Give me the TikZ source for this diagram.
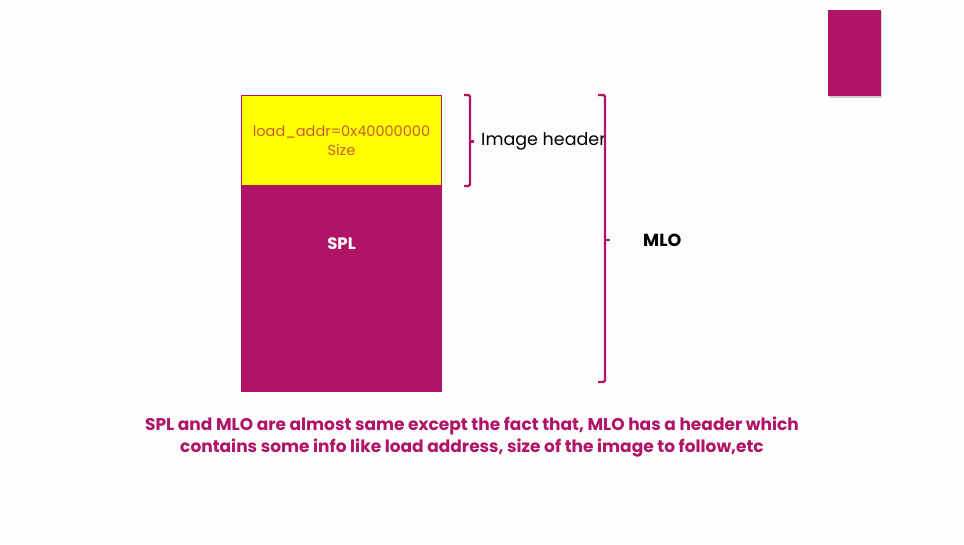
\documentclass[tikz,border=0pt]{standalone}
\usepackage{fontspec}
\setmainfont{Poppins}
\usetikzlibrary{positioning,calc,shadows}
\definecolor{magenta}{HTML}{B11467}
\definecolor{amarillo}{HTML}{FFFF00}
\definecolor{ocre}{HTML}{C8602A}
\definecolor{fondo}{HTML}{FDFDFD}

\begin{document}
\begin{tikzpicture}[x=1pt, y=-1pt,
  block/.style={
    draw=magenta, line width=1pt, minimum width=200pt, inner sep=0pt
  },
  brace/.style={draw=magenta, line width=2.4pt, rounded corners=1.5pt},
  lbl/.style={font=\fontsize{17.5}{20}\selectfont, anchor=west, inner sep=0pt}
]
  \fill[fondo] (0,0) rectangle (964,544);
  \useasboundingbox (0,0) rectangle (964,544);
  % memory layout
  \node[block, fill=amarillo, minimum height=90pt, anchor=north west,
        align=center, text=ocre, font=\fontsize{14.5}{19}\selectfont]
        (hdr) at (241,95) {load\_addr=0x40000000\\ Size};
  \node[block, fill=magenta, minimum height=205pt, below=0pt of hdr] (spl) {};
  \node[text=white, font=\bfseries\fontsize{16.5}{18}\selectfont]
        (spltxt) at ($(spl.north)+(0,58)$) {SPL};
  % brackets
  \coordinate (ht) at ($(hdr.north east)+(28,0)$);
  \coordinate (hb) at ($(hdr.south east)+(28,0)$);
  \draw[brace] ($(ht)+(-6,0)$) -- (ht) -- (hb) -- ++(-6,0);
  \draw[brace] ($(ht)!0.51!(hb)$) -- ++(4,0) coordinate (hm);
  \node[lbl] (imghdr) at ($(hm)+(7,0)$) {Image header};
  \coordinate (mt) at (605,95);
  \coordinate (mb) at (605,382);
  \draw[brace] ($(mt)+(-7,0)$) -- (mt) -- (mb) -- ++(-7,0);
  \draw[brace] (605,240) -- ++(5,0) coordinate (mm);
  \node[lbl, font=\bfseries\fontsize{17.5}{20}\selectfont] (mlo) at ($(mm)+(33,0)$) {MLO};
  % caption
  \node[align=center, text=magenta, font=\bfseries\fontsize{17}{22}\selectfont]
        (note) at (472,437) {SPL and MLO are almost same except the fact that, MLO has a header which\\
        contains some info like load address, size of the image to follow,etc};
  % corner tab
  \node[fill=magenta, minimum width=53pt, minimum height=86pt, inner sep=0pt,
        anchor=north west, drop shadow={opacity=0.35, shadow xshift=0.5pt, shadow yshift=-2pt}]
        (tab) at (828,10) {};
\end{tikzpicture}
\end{document}
